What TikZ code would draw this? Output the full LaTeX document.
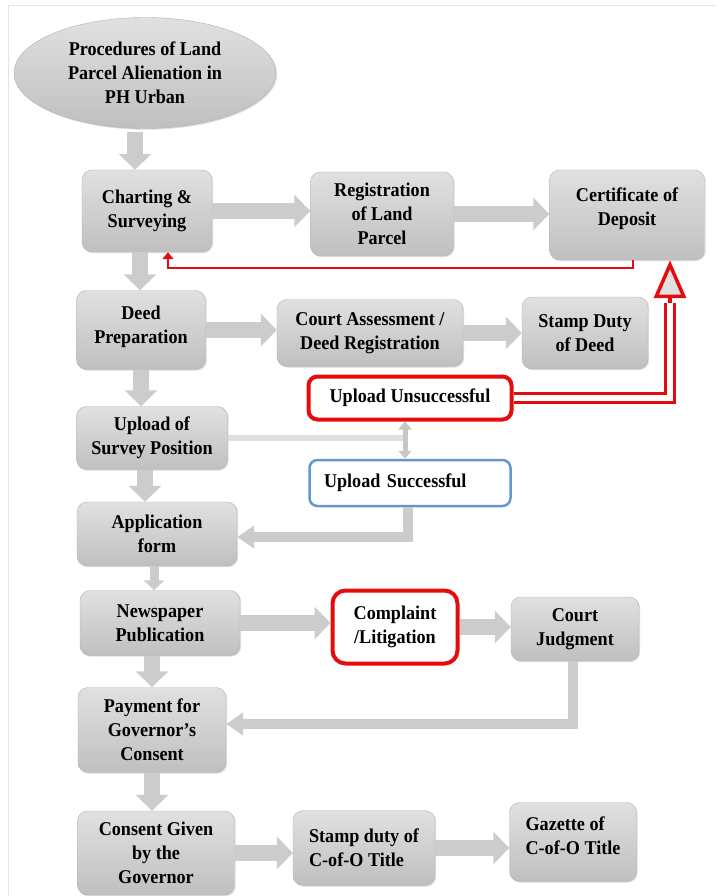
\documentclass[tikz,border=0pt]{standalone}
\usepackage{fontspec}
\setmainfont{Liberation Serif}
\newfontfamily\boxfont{Liberation Serif}[FakeStretch=0.93]
\usetikzlibrary{positioning,arrows.meta,shapes.geometric,shadows}
\definecolor{boxedge}{RGB}{178,178,178}
\definecolor{arrgray}{RGB}{204,204,204}
\definecolor{linegray}{RGB}{222,222,222}
\definecolor{myred}{RGB}{228,12,12}
\definecolor{myblue}{RGB}{98,152,204}
\tikzset{
    stage/.style={
        rectangle,
        rounded corners=10pt,
        draw=boxedge,
        top color=black!12,
        bottom color=black!25,
        thin,
        inner sep=2pt,
        align=center,
        drop shadow={shadow xshift=1.2pt,shadow yshift=-1.2pt,opacity=0.25},
        font=\boxfont\bfseries\fontsize{19.5}{24}\selectfont
    },
    startnode/.style={
        ellipse,
        draw=boxedge,
        top color=black!12,
        bottom color=black!25,
        inner sep=0pt,
        align=center,
        drop shadow={shadow xshift=1.2pt,shadow yshift=-1.2pt,opacity=0.25},
        font=\boxfont\bfseries\fontsize{19.5}{24}\selectfont
    },
    failbox/.style={
        rectangle,
        rounded corners=9pt,
        draw=myred,
        line width=4pt,
        fill=white,
        align=center,
        font=\boxfont\bfseries\fontsize{19.5}{24}\selectfont
    },
    okbox/.style={
        rectangle,
        rounded corners=8pt,
        draw=myblue,
        line width=2.5pt,
        fill=white,
        align=left,
        font=\boxfont\bfseries\fontsize{19.5}{24}\selectfont
    },
    garr/.style={draw=arrgray,line width=16pt,-{Triangle[length=16pt,width=32pt]}},
    thinarr/.style={draw=arrgray,line width=9pt,-{Triangle[length=10pt,width=20pt]}},
    elarr/.style={draw=arrgray,line width=10pt,-{Triangle[length=17pt,width=22pt]}},
    dblarr/.style={draw=black!22,line width=5pt,{Triangle[length=8pt,width=13pt]}-{Triangle[length=8pt,width=13pt]}},
    feedline/.style={draw=linegray,line width=6pt},
    rarr/.style={draw=myred,line width=2.5pt,-{Triangle[length=7pt,width=11pt]}},
    rdbl/.style={draw=myred,line width=3pt,double=white,double distance=6pt},
    rhead/.style={draw=myred,line width=3.5pt,-{Triangle[open,fill=black!12,length=38pt,width=32pt]}}
}
\begin{document}
\begin{tikzpicture}[x=1pt,y=-1pt]
\useasboundingbox (0,0) rectangle (716,896);
\draw[black!10,line width=1pt] (8,896) |- (716,6);

\node[startnode,minimum width=262pt,minimum height=111pt] (proc) at (145,73) {Procedures of Land\\Parcel Alienation in\\PH Urban};

\node[stage,minimum width=130pt,minimum height=82pt] (chart) at (147,211) {Charting \&\\Surveying};
\node[stage,minimum width=143pt,minimum height=84pt] (reg) at (382,214) {Registration\\of Land\\Parcel};
\node[stage,minimum width=155pt,minimum height=90pt,text depth=17pt] (cod) at (627,215) {Certificate of\\Deposit};

\node[stage,minimum width=129pt,minimum height=79pt,text depth=11pt] (deed) at (141,330) {Deed\\Preparation};
\node[stage,minimum width=186pt,minimum height=67pt] (court) at (370,333) {Court Assessment /\\Deed Registration};
\node[stage,minimum width=126pt,minimum height=72pt] (sdd) at (585,333) {Stamp Duty\\of Deed};

\node[failbox,minimum width=203pt,minimum height=43pt] (unsucc) at (410,398) {Upload Unsuccessful};
\node[stage,minimum width=151pt,minimum height=63pt] (survey) at (152,438) {Upload of\\Survey Position};
\node[okbox,minimum width=201pt,minimum height=46pt,text width=172pt] (succ) at (410,483) {\mbox{Upload Successful}};

\node[stage,minimum width=160pt,minimum height=64pt] (appl) at (157,534) {Application\\form};

\node[stage,minimum width=160pt,minimum height=65pt] (news) at (160,623) {Newspaper\\Publication};
\node[failbox,minimum width=125pt,minimum height=73pt,rounded corners=13pt] (compl) at (395,627) {Complaint\\/Litigation};
\node[stage,minimum width=128pt,minimum height=64pt] (judg) at (575,629) {Court\\Judgment};

\node[stage,minimum width=148pt,minimum height=85pt] (pay) at (152,730) {Payment for\\Governor’s\\Consent};

\node[stage,minimum width=157pt,minimum height=84pt] (consent) at (156,853) {Consent Given\\by the\\Governor};
\node[stage,minimum width=142pt,minimum height=75pt,align=left] (sdc) at (364,848) {Stamp duty of\\C-of-O Title};
\node[stage,minimum width=127pt,minimum height=79pt,align=left,text depth=12pt] (gaz) at (573,842) {Gazette of\\C-of-O Title};

% main column
\draw[garr] ([xshift=-10pt,yshift=-3pt]proc.south) -- ([xshift=-10pt]proc.south |- chart.north);
\draw[garr] ([xshift=-7pt]chart.south) -- ([xshift=-7pt]chart.south |- deed.north);
\draw[garr] (deed.south) -- (deed.south |- survey.north);
\draw[garr] ([xshift=-7pt]survey.south) -- ([xshift=-7pt]survey.south |- appl.north);
\draw[thinarr] ([xshift=-3pt]appl.south) -- ([xshift=-3pt]appl.south |- news.north);
\draw[garr] ([xshift=-8pt]news.south) -- ([xshift=-8pt]news.south |- pay.north);
\draw[garr] (pay.south) -- (pay.south |- consent.north);

% rows
\draw[garr] (chart.east) -- (chart.east -| reg.west);
\draw[garr] (reg.east) -- (reg.east -| cod.west);
\draw[garr] (deed.east) -- (deed.east -| court.west);
\draw[garr] (court.east) -- (court.east -| sdd.west);
\draw[garr] (news.east) -- (news.east -| compl.west);
\draw[garr] (compl.east) -- (compl.east -| judg.west);
\draw[garr] (consent.east) -- (consent.east -| sdc.west);
\draw[garr] (sdc.east) -- (sdc.east -| gaz.west);

% upload check
\coordinate (split) at ([xshift=-5pt]unsucc.south);
\draw[feedline] (survey.east) -- (survey.east -| split);
\draw[dblarr] (split) -- (split |- succ.north);
\draw[elarr] ([xshift=-2pt]succ.south) |- ([yshift=-3pt]appl.east);
\draw[elarr] ([xshift=-2pt]judg.south) |- ([yshift=6pt]pay.east);

% red feedback
\draw[rarr] ([xshift=6pt]cod.south) -- ++(0,8) -| ([xshift=21pt]chart.south);
\coordinate (rbase) at ([xshift=43pt,yshift=-43pt]cod.south);
\draw[rdbl] (unsucc.east) -| (rbase);
\draw[rhead] (rbase) -- ([xshift=43pt]cod.south);
\end{tikzpicture}
\end{document}
